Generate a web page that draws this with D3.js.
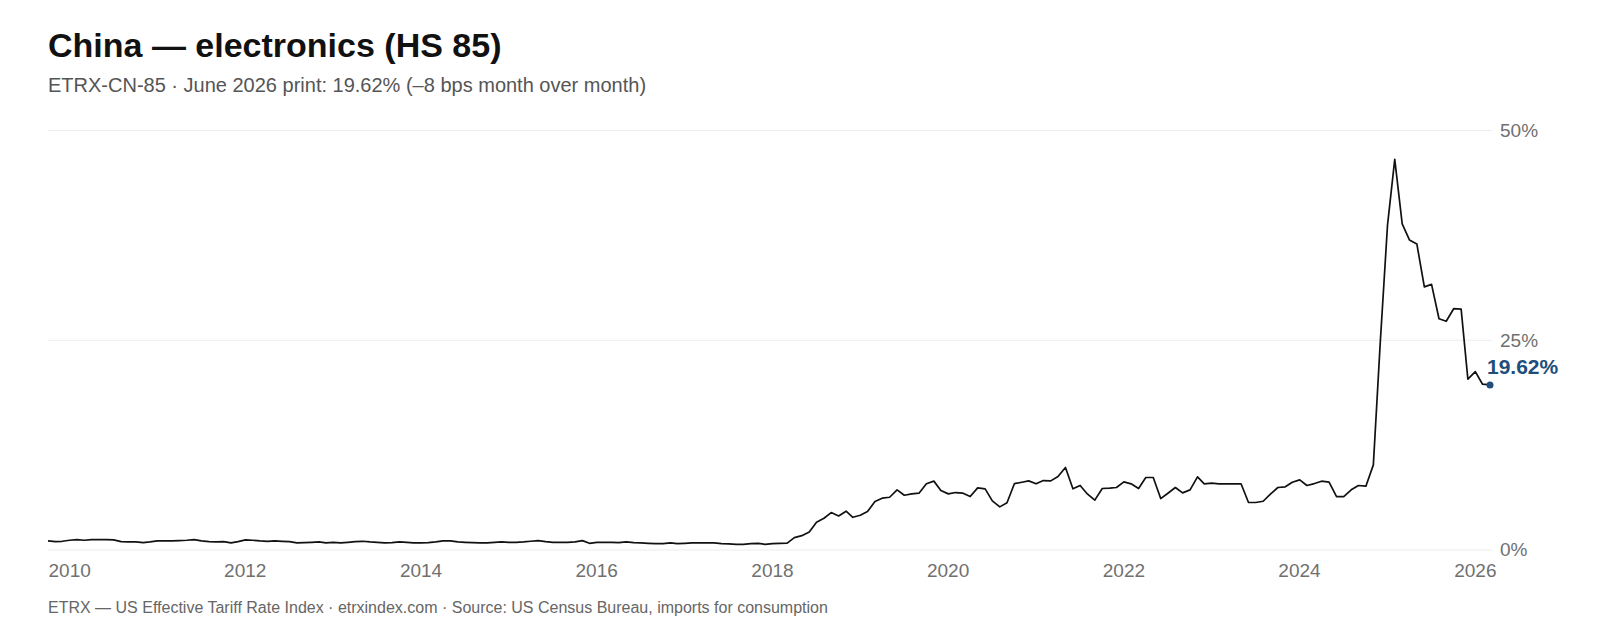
<!DOCTYPE html>
<html>
<head>
<meta charset="utf-8">
<script src="https://cdn.jsdelivr.net/npm/d3@7"></script>
<style>
  body { margin: 0; background: #fff; }
  svg { display: block; font-family: "Liberation Sans", Arial, Helvetica, sans-serif; }
</style>
</head>
<body>
<script>
// monthly index values, Jan 2010 .. Jun 2026 (percent)
let startMonth = "2010-01";
let rates = [
  1.02, 0.94, 0.98, 1.10, 1.18, 1.10, 1.18, 1.18, 1.18, 1.14, 0.94, 0.90, // 2010
  0.90, 0.82, 0.90, 1.02, 1.02, 1.02, 1.06, 1.10, 1.18, 1.02, 0.94, 0.90, // 2011
  0.94, 0.78, 0.94, 1.14, 1.10, 1.02, 0.98, 1.02, 0.98, 0.94, 0.78, 0.82, // 2012
  0.86, 0.90, 0.78, 0.86, 0.78, 0.86, 0.94, 0.98, 0.90, 0.86, 0.78, 0.82, // 2013
  0.90, 0.86, 0.78, 0.78, 0.82, 0.90, 1.02, 1.02, 0.90, 0.86, 0.82, 0.78, // 2014
  0.78, 0.86, 0.90, 0.86, 0.86, 0.90, 0.98, 1.06, 0.94, 0.86, 0.86, 0.86, // 2015
  0.90, 1.06, 0.74, 0.86, 0.86, 0.86, 0.82, 0.90, 0.82, 0.78, 0.74, 0.70, // 2016
  0.70, 0.78, 0.70, 0.74, 0.78, 0.78, 0.78, 0.78, 0.70, 0.66, 0.62, 0.62, // 2017
  0.70, 0.74, 0.62, 0.70, 0.74, 0.76, 1.41, 1.65, 2.09, 3.24, 3.72, 4.40, // 2018
  4.00, 4.56, 3.84, 4.08, 4.52, 5.72, 6.12, 6.23, 7.11, 6.47, 6.63, 6.71, // 2019
  7.83, 8.15, 7.03, 6.63, 6.79, 6.71, 6.31, 7.35, 7.23, 5.80, 5.08, 5.58, // 2020
  7.86, 8.02, 8.18, 7.83, 8.22, 8.18, 8.70, 9.78, 7.23, 7.63, 6.59, 5.88, // 2021
  7.27, 7.31, 7.39, 8.06, 7.83, 7.27, 8.58, 8.58, 6.07, 6.71, 7.39, 6.75, // 2022
  7.11, 8.66, 7.83, 7.90, 7.83, 7.83, 7.83, 7.83, 5.60, 5.60, 5.75, 6.59, // 2023
  7.39, 7.47, 8.02, 8.30, 7.63, 7.86, 8.14, 8.02, 6.31, 6.31, 7.11, 7.63, // 2024
  7.55, 10.09, 24.3, 38.7, 46.5, 38.8, 36.9, 36.4, 31.3, 31.6, 27.5, 27.2, // 2025
  28.7, 28.65, 20.3, 21.2, 19.70, 19.62                                   // 2026
];
let tickYears = [2010, 2012, 2014, 2016, 2018, 2020, 2022, 2024, 2026];
let yTicks = [0, 25, 50];

let title = "China \u2014 electronics (HS 85)";
let subtitle = "ETRX-CN-85 \u00b7 June 2026 print: 19.62% (\u20138 bps month over month)";
let footer = "ETRX \u2014 US Effective Tariff Rate Index \u00b7 etrxindex.com \u00b7 Source: US Census Bureau, imports for consumption";

let w = 1600, h = 640;
let margin = {top: 130, right: 110, bottom: 90.5, left: 48};
let width = w - margin.left - margin.right, height = h - margin.top - margin.bottom;

let parseMonth = d3.timeParse("%Y-%m");
let t0 = parseMonth(startMonth);
let data = rates.map(function (v, i) {
  return {date: d3.timeMonth.offset(t0, i), value: v};
});

let xScale = d3.scaleTime()
  .domain([data[0].date, data[data.length - 1].date])
  .range([0, width]);
let yScale = d3.scaleLinear().domain([0, 50]).range([height, 0]);

let svg = d3.select("body").append("svg").attr("width", w).attr("height", h);

svg.append("text").text(title)
  .attr("x", 48).attr("y", 57)
  .attr("font-size", "34px").attr("font-weight", "bold").attr("fill", "#111");
svg.append("text").text(subtitle)
  .attr("x", 48).attr("y", 92)
  .attr("font-size", "20px").attr("fill", "#555");
svg.append("text").text(footer)
  .attr("x", 48).attr("y", 613)
  .attr("font-size", "16px").attr("fill", "#666");

let g = svg.append("g")
  .attr("transform", "translate(" + margin.left + "," + margin.top + ")");

// y gridlines + labels on the right
let yAxis = g.append("g")
  .attr("class", "axis axis--y")
  .call(d3.axisRight(yScale).tickValues(yTicks).tickSize(width + 2)
    .tickFormat(function (d) { return d + "%"; }));
yAxis.select(".domain").remove();
yAxis.selectAll(".tick line").attr("stroke", "#ececec").attr("stroke-width", 1);
yAxis.selectAll(".tick text")
  .attr("x", width + 10)
  .attr("dy", "0.34em")
  .attr("font-family", "Liberation Sans, Arial, sans-serif")
  .attr("font-size", "19px")
  .attr("fill", "#707070");

// x axis labels, left aligned on tick
let xAxis = g.append("g")
  .attr("class", "axis axis--x")
  .attr("transform", "translate(0," + height + ")")
  .call(d3.axisBottom(xScale)
    .tickValues(tickYears.map(function (y) { return new Date(y, 0, 1); }))
    .tickSize(0)
    .tickFormat(d3.timeFormat("%Y")));
xAxis.select(".domain").remove();
xAxis.selectAll(".tick text")
  .attr("text-anchor", "start")
  .attr("y", 27.5)
  .attr("dy", 0)
  .attr("font-family", "Liberation Sans, Arial, sans-serif")
  .attr("font-size", "19px")
  .attr("fill", "#707070");

let line = d3.line()
  .x(function (d) { return xScale(d.date); })
  .y(function (d) { return yScale(d.value); });

g.append("path")
  .datum(data)
  .attr("d", line)
  .attr("fill", "none")
  .attr("stroke", "#111")
  .attr("stroke-width", 1.7)
  .attr("stroke-linejoin", "round");

let last = data[data.length - 1];
g.append("circle")
  .attr("cx", xScale(last.date))
  .attr("cy", yScale(last.value))
  .attr("r", 3.5)
  .attr("fill", "#1f4e7a");
g.append("text")
  .text(last.value.toFixed(2) + "%")
  .attr("x", xScale(last.date) - 3)
  .attr("y", yScale(last.value) - 11)
  .attr("font-size", "21px")
  .attr("font-weight", "bold")
  .attr("fill", "#1f4e7a");
</script>
</body>
</html>
